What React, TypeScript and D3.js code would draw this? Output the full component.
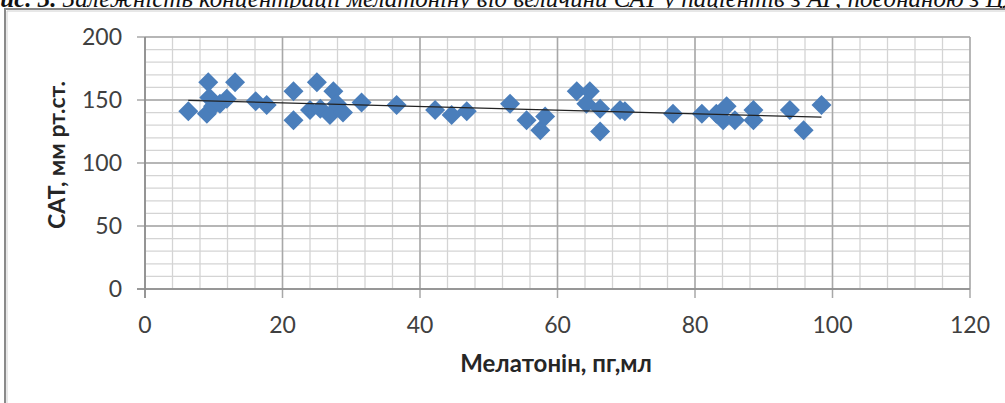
import React from 'react';
import * as d3 from 'd3';

// Melatonin (pg/ml) vs systolic BP (mm Hg)
const melatonin = [
  6.3, 9.2, 9.35, 9.0, 9.9, 10.9, 11.9, 13.1, 16.1, 17.7, 21.6, 21.6, 25.0, 24.0, 25.5,
  27.4, 26.9, 27.9, 28.8, 31.5, 36.6, 42.2, 44.6, 46.8, 53.1, 55.5, 57.5, 58.2, 62.8,
  64.7, 64.2, 66.2, 66.2, 69.1, 69.8, 76.8, 81.0, 83.1, 84.6, 84.1, 85.8, 88.5, 88.5,
  93.8, 95.8, 98.4,
];
const sat = [
  141, 164, 152, 139, 145, 147, 151, 164, 149, 146, 157, 134, 164, 142, 143,
  157, 138, 147, 140, 148, 146, 142, 138, 141, 147, 134, 126, 137, 157,
  157, 147, 143, 125, 142, 141, 139, 139, 139, 145, 134, 134, 142, 134,
  142, 126, 146,
];

const xTicks = [0, 20, 40, 60, 80, 100, 120];
const yTicks = [0, 50, 100, 150, 200];

const caption =
  'Рис. 3. Залежність концентрації мелатоніну від величини САТ у пацієнтів з АГ, поєднаною з ЦД';

const W = 1005;
const H = 403;

export default function App() {
  const x = d3.scaleLinear().domain([0, 120]).range([145, 970]);
  const y = d3.scaleLinear().domain([0, 200]).range([289, 37]);

  const minorX = d3.range(0, 121, 4);
  const minorY = d3.range(0, 201, 10);

  // least squares trend line
  const mx = d3.mean(melatonin)!;
  const my = d3.mean(sat)!;
  let sxy = 0;
  let sxx = 0;
  melatonin.forEach((v, i) => {
    sxy += (v - mx) * (sat[i] - my);
    sxx += (v - mx) * (v - mx);
  });
  const slope = sxy / sxx;
  const icpt = my - slope * mx;
  const [x0, x1] = d3.extent(melatonin) as [number, number];

  const diamond = d3.symbol(d3.symbolSquare, 200)()!;
  const tickFont = 'Lato, "Open Sans", sans-serif';

  return (
    <svg
      width={W}
      height={H}
      style={{ position: 'absolute', left: 0, top: 0, display: 'block', background: '#fff' }}
    >
      {/* caption of the page above, cut by the top edge as in the scan */}
      <text
        x={-15}
        y={7}
        fontFamily='"Liberation Serif", "Times New Roman", serif'
        fontStyle="italic"
        fontSize={25}
        fill="#111"
      >
        <tspan fontWeight="bold">Рис. 3.</tspan> {caption.slice(8)}
      </text>

      {/* frame */}
      <rect x={5} y={9} width={W + 20} height={H + 20} fill="#fff" stroke="#8a8a8a" strokeWidth={2} />
      <line x1={7} y1={11} x2={W} y2={11} stroke="#d0d0d0" strokeWidth={1} />
      <line x1={7} y1={11} x2={7} y2={H} stroke="#d0d0d0" strokeWidth={1} />

      {/* minor grid */}
      {minorX.map((v) => (
        <line key={'mx' + v} x1={x(v)} x2={x(v)} y1={y(200)} y2={y(0)} stroke="#d4d4d4" strokeWidth={1.3} />
      ))}
      {minorY.map((v) => (
        <line key={'my' + v} x1={x(0)} x2={x(120)} y1={y(v)} y2={y(v)} stroke="#d4d4d4" strokeWidth={1.3} />
      ))}
      {/* major grid + ticks */}
      {xTicks.map((v) => (
        <line key={'gx' + v} x1={x(v)} x2={x(v)} y1={y(200)} y2={y(0) + 9} stroke="#a8a8a8" strokeWidth={1.5} />
      ))}
      {yTicks.map((v) => (
        <line key={'gy' + v} x1={x(0) - 8} x2={x(120)} y1={y(v)} y2={y(v)} stroke="#a8a8a8" strokeWidth={1.5} />
      ))}
      <line x1={x(0)} x2={x(0)} y1={y(200)} y2={y(0) + 9} stroke="#8c8c8c" strokeWidth={1.6} />
      <line x1={x(0) - 8} x2={x(120)} y1={y(0)} y2={y(0)} stroke="#8c8c8c" strokeWidth={1.6} />

      {/* tick labels */}
      {yTicks.map((v) => (
        <text
          key={'ty' + v}
          x={122}
          y={y(v)}
          dy="0.36em"
          textAnchor="end"
          fontFamily={tickFont}
          fontSize={23}
          fill="#404040"
        >
          {v}
        </text>
      ))}
      {xTicks.map((v) => (
        <text
          key={'tx' + v}
          x={x(v)}
          y={333}
          textAnchor="middle"
          fontFamily={tickFont}
          fontSize={23}
          fill="#404040"
        >
          {v}
        </text>
      ))}

      {/* axis titles */}
      <text
        transform={`translate(65,${(y(0) + y(200)) / 2 - 8}) rotate(-90)`}
        textAnchor="middle"
        fontFamily={tickFont}
        fontWeight="bold"
        fontSize={23}
        fill="#262626"
      >
        САТ, мм рт.ст.
      </text>
      <text
        x={556}
        y={372}
        textAnchor="middle"
        fontFamily={tickFont}
        fontWeight="bold"
        fontSize={24}
        fill="#262626"
      >
        Мелатонін, пг,мл
      </text>

      {/* points */}
      {melatonin.map((v, i) => (
        <path
          key={'p' + i}
          d={diamond}
          transform={`translate(${x(v)},${y(sat[i])}) rotate(45)`}
          fill="#4a7ebb"
        />
      ))}

      {/* trend line */}
      <line
        x1={x(x0)}
        y1={y(icpt + slope * x0)}
        x2={x(x1)}
        y2={y(icpt + slope * x1)}
        stroke="#222"
        strokeWidth={1.2}
      />
    </svg>
  );
}
